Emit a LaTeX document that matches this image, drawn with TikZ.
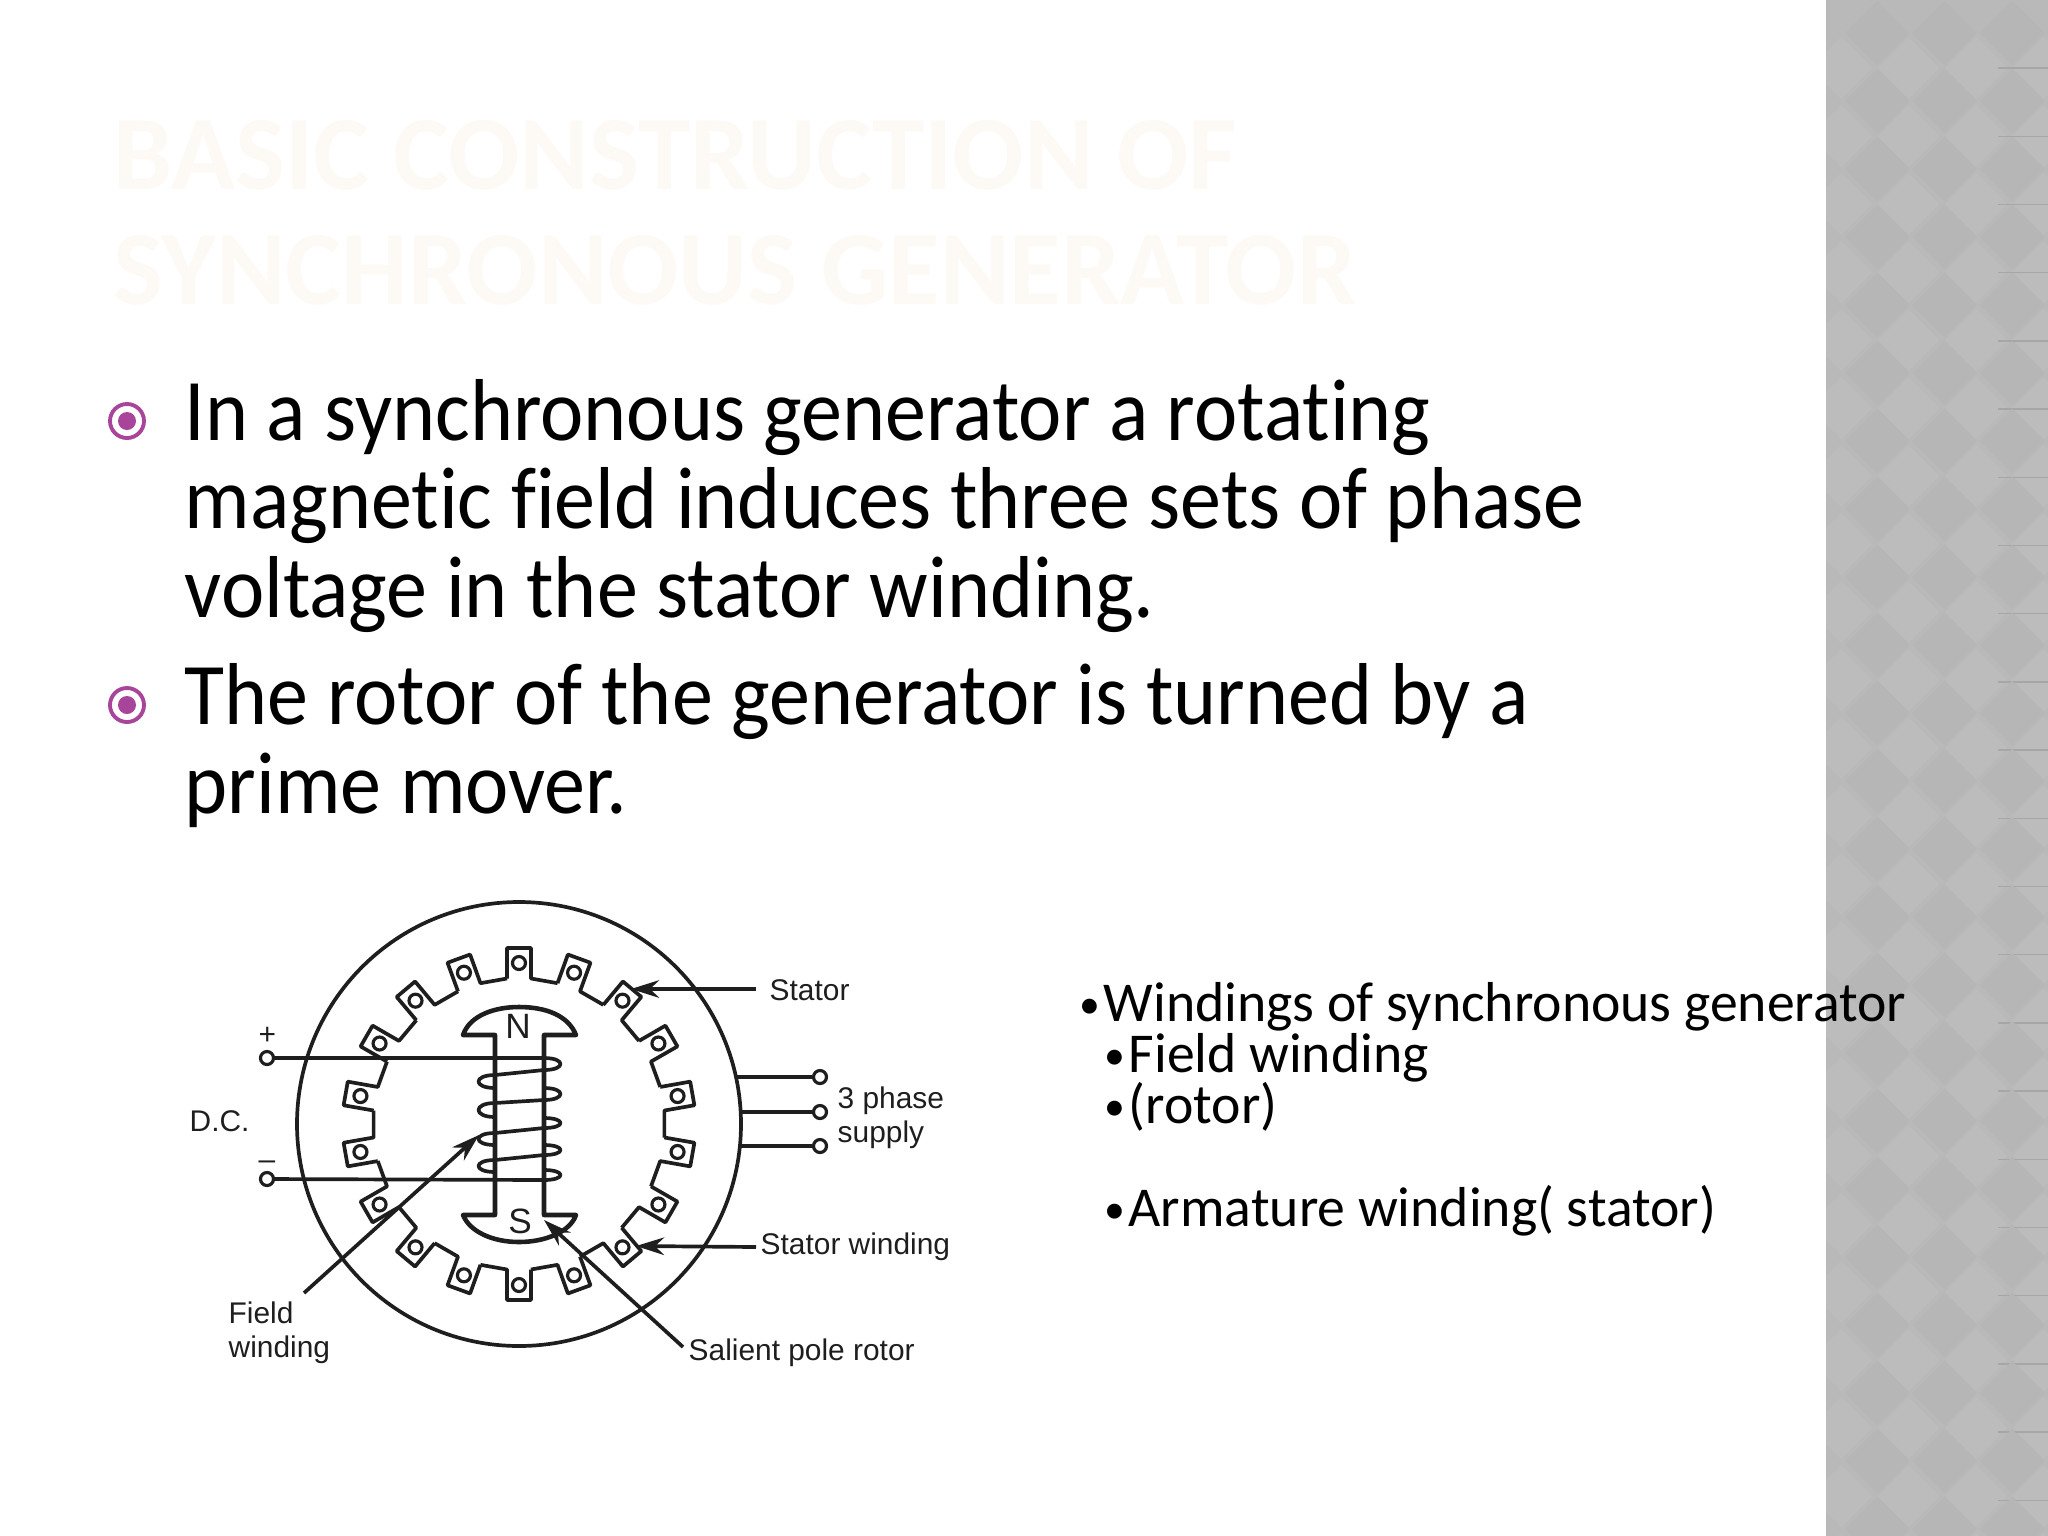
\documentclass[tikz,border=0pt]{standalone}
\usepackage{fontspec}
\setmainfont[Ligatures=NoCommon]{Carlito}
\newfontfamily\bodyfont[Ligatures=NoCommon,FakeStretch=0.933]{Carlito}
\newfontfamily\sidefont[Ligatures=NoCommon,FakeStretch=0.99]{Carlito}
\newfontfamily\labelfont{Liberation Sans}
\usetikzlibrary{arrows.meta}
\definecolor{panelbase}{HTML}{B9B9B9}
\definecolor{paneldark}{HTML}{B6B6B6}
\definecolor{panellight}{HTML}{BCBCBC}
\definecolor{panelrule}{HTML}{A6A6A6}
\definecolor{bulletpurple}{HTML}{A8459B}
\definecolor{titlepale}{HTML}{FDF9F5}
\definecolor{inkgrey}{HTML}{1E1E1E}
\newcommand{\sidedot}{\makebox[0.24cm][l]{\raisebox{0.6pt}{\fontsize{12}{12}\selectfont•}}}
\tikzset{
  body/.style={anchor=base west, inner sep=0pt, font=\bodyfont\fontsize{25}{30}\selectfont},
  side/.style={anchor=base west, inner sep=0pt, font=\sidefont\fontsize{16}{19}\selectfont},
  headline/.style={anchor=base west, inner sep=0pt, text=titlepale, font=\fontsize{30}{36}\selectfont\bfseries},
  tag/.style={anchor=west, inner sep=0pt, text=inkgrey, font=\labelfont\fontsize{8.5}{10}\selectfont},
  pole/.style={inner sep=0pt, text=inkgrey, font=\labelfont\fontsize{10}{12}\selectfont},
  ring/.style={circle, draw=bulletpurple, fill=white, line width=1.1pt, minimum size=34*0.01cm, inner sep=0pt},
  ringdot/.style={circle, fill=bulletpurple, minimum size=18*0.01cm, inner sep=0pt},
  wire/.style={circle, draw=inkgrey, line width=0.9pt, minimum size=13*0.01cm, inner sep=0pt},
  terminal/.style={circle, draw=inkgrey, fill=white, line width=0.9pt, minimum size=13*0.01cm, inner sep=0pt},
  line/.style={draw=inkgrey, line width=1.05pt, line join=round},
  pointer/.style={line, -{Stealth[length=8pt,width=5pt]}},
}
\begin{document}
\begin{tikzpicture}[x=0.01cm,y=-0.01cm]
  \useasboundingbox (0,0) rectangle (2048,1536);

  % side panel
  \fill[panelbase] (1826,0) rectangle (2048,1536);
  \begin{scope}
    \clip (1826,0) rectangle (2048,1536);
    \foreach \r in {0,...,22} {
      \foreach \c in {0,1,2,3} {
        \fill[paneldark] ({1877+67.5*\c},{33+68*\r-32}) -- ++(32,32) -- ++(-32,32) -- ++(-32,-32) -- cycle;
        \fill[panellight] ({1841+67.5*\c},{68+68*\r-31}) -- ++(31,31) -- ++(-31,31) -- ++(-31,-31) -- cycle;
      }
      \draw[panelrule, line width=0.4pt] (1998,{68+68.2*\r}) -- (2048,{68+68.2*\r});
    }
  \end{scope}

  % title
  \node[headline] (title1) at (113,189) {BASIC CONSTRUCTION OF};
  \node[headline] (title2) at (113,304) {SYNCHRONOUS GENERATOR};

  % bullets
  \node[ring] (ring1) at (127,421) {};
  \node[ringdot] (dot1) at (127,421) {};
  \node[ring] (ring2) at (127,705) {};
  \node[ringdot] (dot2) at (127,705) {};

  % main text
  \node[body] (line1) at (184,440) {In a synchronous generator a rotating};
  \node[body] (line2) at (184,528.5) {magnetic field induces three sets of phase};
  \node[body] (line3) at (184,617) {voltage in the stator winding.};
  \node[body] (line4) at (184,724) {The rotor of the generator is turned by a};
  \node[body] (line5) at (184,813) {prime mover.};

  % side text
  \node[side] (side1) at (1079,1021) {\sidedot Windings of synchronous generator};
  \node[side] (side2) at (1104,1072) {\sidedot Field winding};
  \node[side] (side3) at (1104,1123) {\sidedot (rotor)};
  \node[side] (side4) at (1104,1226) {\sidedot Armature winding( stator)};

  % machine
  \node[circle, line, minimum size=444*0.01cm, inner sep=0pt] (frame) at (519,1124) {};

  \begin{scope}[shift={(519,1124)}]
    \draw[line] \foreach \a in {10,30,...,350} {
      (\a-4.7:146) -- (\a-3.9:176.4) -- (\a+3.9:176.4) -- (\a+4.7:146) -- (\a+15.3:146)
    };
    \foreach \a in {10,30,...,350} {
      \node[wire] (slot\a) at (\a:161) {};
    }
  \end{scope}

  % rotor
  \draw[line, line width=1.3pt] (463,1035) .. controls (470,1015) and (495,1007) .. (519,1007)
    .. controls (545,1007) and (568,1015) .. (576,1035) -- (544,1035) -- (544,1215) -- (576,1215)
    .. controls (570,1232) and (545,1242) .. (519,1242)
    .. controls (493,1242) and (470,1232) .. (463,1215) -- (495,1215) -- (495,1035) -- cycle;
  \node[pole] (north) at (518,1026) {N};
  \node[pole] (south) at (520,1221) {S};

  % terminals
  \node[terminal] (plus) at (267,1058) {};
  \node[terminal] (minus) at (267,1179) {};
  \node[terminal] (pha) at (820,1077) {};
  \node[terminal] (phb) at (820,1112) {};
  \node[terminal] (phc) at (820,1146) {};
  \coordinate (fra) at (737,1077);
  \coordinate (frb) at (741,1112);
  \coordinate (frc) at (738,1146);

  \draw[line] (fra) -- (pha);
  \draw[line] (frb) -- (phb);
  \draw[line] (frc) -- (phc);

  % field coil
  \coordinate (upr) at (544,1058);
  \coordinate (lwr) at (544,1180);
  \draw[line] (plus) -- (upr);
  \draw[line] (minus) -- (lwr);
  \foreach \i/\j in {1058/1070,1088/1100,1118/1128,1145/1155,1170/1180} {
    \draw[line] (544,\i) .. controls (566,\i) and (566,\j) .. (544,\j);
  }
  \foreach \i/\j in {1075/1088,1103/1117,1133/1145,1160/1172} {
    \draw[line] (495,\i) .. controls (473,\i) and (473,\j) .. (495,\j);
  }
  \foreach \i/\j in {1070/1075,1100/1103,1128/1133,1155/1160} {
    \draw[line] (544,\i) -- (495,\j);
  }

  % labels
  \node[tag] (stator) at (769,990) {Stator};
  \node[tag] (statorw) at (760,1247) {Stator winding};
  \node[tag, align=left] (phase) at (837,1118) {3 phase\\[-0.4pt]supply};
  \node[tag] (rotor) at (688,1353) {Salient pole rotor};
  \node[tag, align=left] (field) at (228,1333) {Field\\[-0.4pt]winding};
  \node[tag] (dc) at (189,1121) {D.C.};
  \node[tag] (plussign) at (258,1036) {+};
  \node[tag] (minussign) at (258,1165) {–};

  \coordinate (statortip) at (631,989);
  \coordinate (windingtip) at (636,1246);
  \coordinate (fieldtip) at (479,1135);
  \coordinate (fieldend) at (304,1293);
  \coordinate (rotortip) at (544,1220);
  \coordinate (rotorend) at (683,1347);

  \draw[pointer] (stator.west) ++(-13,-1) -- (statortip);
  \draw[pointer] (statorw.west) ++(-4,0) -- (windingtip);
  \draw[pointer] (fieldend) -- (fieldtip);
  \draw[pointer] (rotorend) -- (rotortip);
\end{tikzpicture}
\end{document}
